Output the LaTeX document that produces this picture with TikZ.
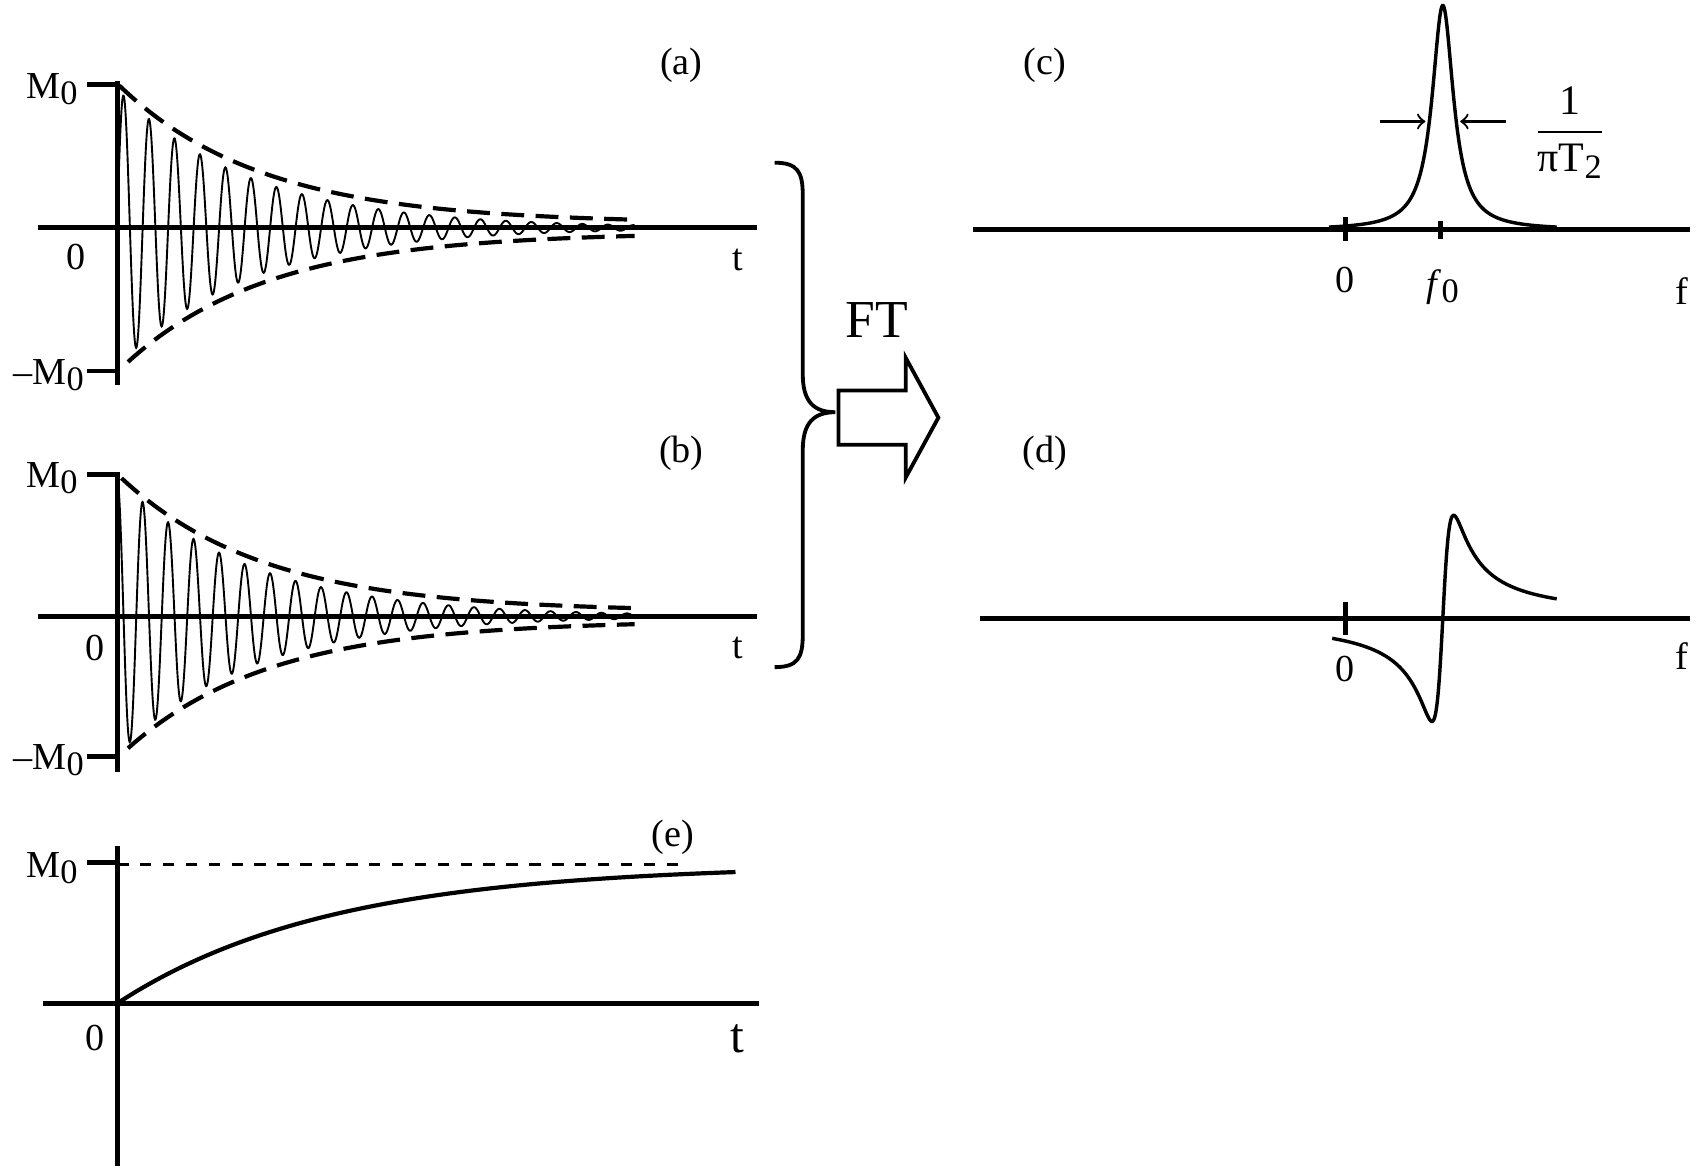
\documentclass[tikz,border=0pt]{standalone}
\usepackage{fontspec}
\setmainfont{Liberation Serif}
\newcommand{\sbz}{\raisebox{-0.35ex}{\fontsize{9}{10}\selectfont 0}}
\begin{document}
\begin{tikzpicture}[x=0.01cm,y=-0.01cm,
  axis/.style={line width=1.3pt},
  sig/.style={line width=0.5pt},
  env/.style={line width=1.1pt,dash pattern=on 6pt off 3pt},
  lab/.style={font=\fontsize{10}{12}\selectfont,inner sep=0pt}]
\useasboundingbox (0,0) rectangle (1568,1080);
% ---------- (a)
\draw[axis] (35,210) -- (698,210);
\draw[axis] (108,75) -- (108,355);
\draw[axis] (80,78) -- (108,78);
\draw[axis] (80,342) -- (108,342);
\node[lab] (Ma) at (48,82) {M\sbz};
\node[lab] (mMa) at (45,346) {\textendash M\sbz};
\node[lab] (za) at (70,237) {0};
\node[lab] (ta) at (680,240) {t};
\node[lab] (la) at (628,60) {(a)};
\draw[sig] plot[domain=108:585,samples=1200] ({\x},{210-128*exp(-(\x-108)/120)*sin((\x-108)*15.3191)});
\draw[env] plot[domain=110:585,samples=80] ({\x},{210-(129*exp(-(\x-108)/132)+4)});
\draw[env] plot[domain=118:585,samples=80] ({\x},{210+(129*exp(-(\x-108)/132)+4)});
% ---------- (b)
\draw[axis] (35,568) -- (698,568);
\draw[axis] (108,435) -- (108,712);
\draw[axis] (80,437) -- (108,437);
\draw[axis] (80,697) -- (108,697);
\node[lab] (Mb) at (48,441) {M\sbz};
\node[lab] (mMb) at (45,701) {\textendash M\sbz};
\node[lab] (zb) at (88,597) {0};
\node[lab] (tb) at (680,597) {t};
\node[lab] (lb) at (628,418) {(b)};
\draw[sig] plot[domain=108:585,samples=1200] ({\x},{568-128*exp(-(\x-108)/120)*cos((\x-108)*15.3191)});
\draw[env] plot[domain=112:585,samples=80] ({\x},{568-(127*exp(-(\x-108)/132)+4)});
\draw[env] plot[domain=118:585,samples=80] ({\x},{568+(127*exp(-(\x-108)/132)+4)});
% ---------- (e)
\draw[axis] (40,925) -- (700,925);
\draw[axis] (108,780) -- (108,1075);
\draw[axis] (80,795) -- (108,795);
\draw[dashed,line width=0.6pt] (108,797) -- (630,797);
\node[lab] (Me) at (48,800) {M\sbz};
\node[lab] (ze) at (88,957) {0};
\node[lab,font=\fontsize{13}{15}\selectfont] (te) at (680,958) {t};
\node[lab] (le) at (620,772) {(e)};
\draw[line width=1.1pt] plot[domain=108:678,samples=150] ({\x},{925-128*(1-exp(-(\x-108)/195))});
% ---------- brace and arrow
\draw[line width=1pt] (714,150) .. controls (735,150) and (740,158) .. (740,180)
  -- (740,345) .. controls (740,370) and (750,380) .. (770,380)
  .. controls (750,380) and (740,390) .. (740,415)
  -- (740,585) .. controls (740,607) and (735,615) .. (714,615);
\draw[line width=1pt] (773,360) -- (835,360) -- (835,330) -- (865,385) -- (835,440) -- (835,410) -- (773,410) -- cycle;
\node[lab,font=\fontsize{14}{16}\selectfont] (ft) at (808,295) {FT};
% ---------- (c)
\draw[axis] (897,212) -- (1558,212);
\draw[axis] (1240,200) -- (1240,222);
\draw[axis] (1328,204) -- (1328,220);
\draw[line width=0.9pt] plot[domain=1225:1435,samples=400] ({\x},{212-207/(1+((\x-1330)/12)^2)});
\draw[->,line width=0.6pt] (1272,112) -- (1314,112);
\draw[->,line width=0.6pt] (1388,112) -- (1346,112);
\node[lab,font=\fontsize{11}{13}\selectfont] (fr) at (1447,122) {$\displaystyle\frac{\mbox{1}}{\mbox{πT\raisebox{-0.35ex}{\fontsize{9}{10}\selectfont 2}}}$};
\node[lab] (lc) at (963,60) {(c)};
\node[lab] (zc) at (1240,258) {0};
\node[lab] (f0) at (1330,265) {\textit{f}\sbz};
\node[lab] (fc) at (1550,268) {f};
% ---------- (d)
\draw[axis] (903,570) -- (1558,570);
\draw[axis] (1240,555) -- (1240,585);
\draw[line width=0.9pt] plot[domain=1228:1435,samples=400] ({\x},{570-19*(\x-1330)/((100+(\x-1330)^2)/100)});
\node[lab] (ld) at (963,418) {(d)};
\node[lab] (zd) at (1240,617) {0};
\node[lab] (fd) at (1550,605) {f};
\end{tikzpicture}
\end{document}
